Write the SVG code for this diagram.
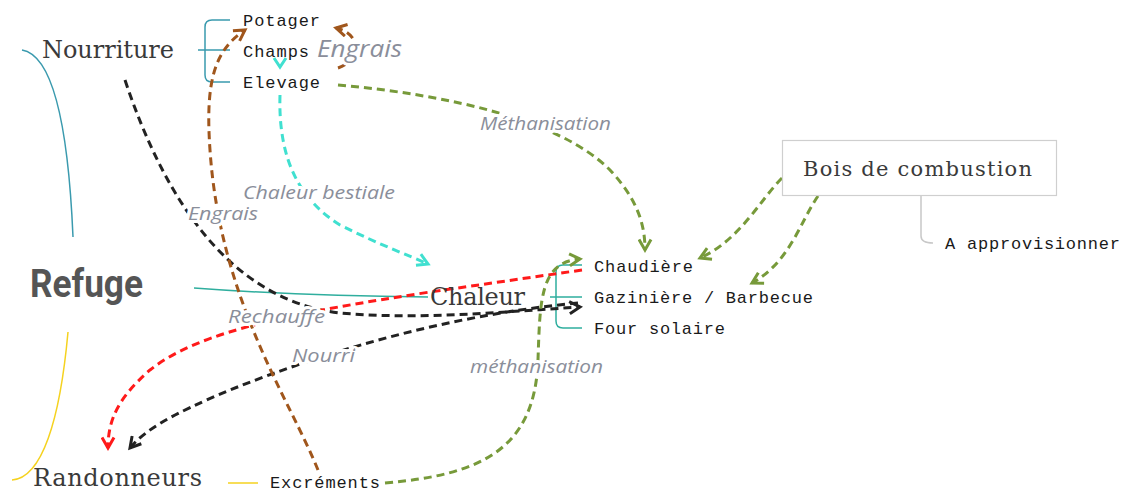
<svg xmlns="http://www.w3.org/2000/svg" width="1128" height="492" viewBox="0 0 1128 492">
<style>
.serif{font-family:"DejaVu Serif","Liberation Serif",serif;fill:#3a3a3a}
.mono{font-family:"Liberation Mono","DejaVu Sans Mono",monospace;font-size:17px;fill:#1a1a1a}
.lbl{font-family:"Open Sans","Noto Sans",sans-serif;font-style:italic;font-size:18px;fill:#8a8e9a;stroke:#fff;stroke-width:6px;stroke-linejoin:round;paint-order:stroke}
.dash{fill:none;stroke-width:3;stroke-dasharray:8 5}
.tie{fill:none;stroke-width:1.5}
</style>
<defs>
<marker id="aG" viewBox="0 0 10 10" refX="8" refY="5" markerWidth="5" markerHeight="5" orient="auto" markerUnits="strokeWidth"><path d="M1,1 L8,5 L1,9" fill="none" stroke="#779a3a" stroke-width="2"/></marker>
<marker id="aK" viewBox="0 0 10 10" refX="8" refY="5" markerWidth="5" markerHeight="5" orient="auto" markerUnits="strokeWidth"><path d="M1,1 L8,5 L1,9" fill="none" stroke="#222" stroke-width="2"/></marker>
<marker id="aR" viewBox="0 0 10 10" refX="8" refY="5" markerWidth="5" markerHeight="5" orient="auto" markerUnits="strokeWidth"><path d="M1,1 L8,5 L1,9" fill="none" stroke="#ff1a1a" stroke-width="2"/></marker>
<marker id="aB" viewBox="0 0 10 10" refX="8" refY="5" markerWidth="5" markerHeight="5" orient="auto" markerUnits="strokeWidth"><path d="M1,1 L8,5 L1,9" fill="none" stroke="#a0561c" stroke-width="2"/></marker>
<marker id="aC" viewBox="0 0 10 10" refX="8" refY="5" markerWidth="5" markerHeight="5" orient="auto" markerUnits="strokeWidth"><path d="M1,1 L8,5 L1,9" fill="none" stroke="#40e0d0" stroke-width="2"/></marker>
</defs>
<rect width="1128" height="492" fill="#fff"/>

<g id="ties">
<path class="tie" stroke="#3a9aae" d="M22,50 C52,55 68,120 73,237"/>
<path class="tie" stroke="#f5d21f" d="M68,332 C60,420 42,478 12,480"/>
<path class="tie" stroke="#2fae9e" d="M194,288 Q300,296 428,297"/>
<path class="tie" stroke="#3a9aae" d="M198,50 H230 M230,20 H212 Q205,20 205,27 V75 Q205,82 212,82 H230"/>
<path class="tie" stroke="#2fae9e" d="M582,265 H563 Q556,265 556,272 V321 Q556,328 563,328 H582 M550,297 H582"/>
<path class="tie" stroke="#f5d21f" d="M228,483 H258"/>
<path class="tie" stroke="#c8c8c8" d="M921,196 V236 Q921,243 933,243"/>
</g>

<g id="connectors">
<path class="dash" stroke="#222" d="M125,80 C165,200 230,300 340,313 C420,320 500,312 580,307" marker-end="url(#aK)"/>
<path class="dash" stroke="#222" d="M578,303 C450,315 330,350 230,390 C170,415 145,430 130,448" marker-end="url(#aK)"/>
<path class="dash" stroke="#ff1a1a" d="M582,270 L430,292 C300,312 200,330 150,370 C118,398 108,420 108,448" marker-end="url(#aR)"/>
<path class="dash" stroke="#a0561c" d="M318,470 C290,400 220,300 210,150 C205,80 215,50 245,30" marker-end="url(#aB)"/>
<path class="dash" stroke="#a0561c" d="M338,68 C362,60 362,34 336,28" marker-end="url(#aB)"/>
<path class="dash" stroke="#40e0d0" d="M280,95 C278,160 300,200 340,225 C380,245 408,255 428,264" marker-end="url(#aC)"/>
<path fill="none" stroke="#40e0d0" stroke-width="3" d="M274,58 L280,67 L286,58"/>
<path class="dash" stroke="#779a3a" d="M338,85 C450,95 560,120 610,170 C638,200 645,225 645,250" marker-end="url(#aG)"/>
<path class="dash" stroke="#779a3a" d="M782,178 C760,200 740,240 700,258" marker-end="url(#aG)"/>
<path class="dash" stroke="#779a3a" d="M818,196 C800,222 790,262 752,283" marker-end="url(#aG)"/>
<path class="dash" stroke="#779a3a" d="M385,483 C480,475 535,450 538,360 C540,300 540,262 580,259" marker-end="url(#aG)"/>
</g>

<g id="labels">
<text class="lbl" x="480" y="130" textLength="131" lengthAdjust="spacingAndGlyphs">Méthanisation</text>
<text class="lbl" x="243" y="199" textLength="152" lengthAdjust="spacingAndGlyphs">Chaleur bestiale</text>
<text class="lbl" x="188" y="220" textLength="70" lengthAdjust="spacingAndGlyphs">Engrais</text>
<text class="lbl" x="317" y="57" style="font-size:24px" textLength="85" lengthAdjust="spacingAndGlyphs">Engrais</text>
<text class="lbl" x="228" y="323" textLength="97" lengthAdjust="spacingAndGlyphs">Rechauffe</text>
<text class="lbl" x="292" y="362" textLength="63" lengthAdjust="spacingAndGlyphs">Nourri</text>
<text class="lbl" x="470" y="373" textLength="133" lengthAdjust="spacingAndGlyphs">méthanisation</text>
</g>

<g id="refuge"><text x="30" y="297" style="font-family:Roboto,'Noto Sans',sans-serif;font-weight:bold;font-size:38px;fill:#555" textLength="113" lengthAdjust="spacingAndGlyphs">Refuge</text></g>
<g id="nourriture"><text class="serif" x="42" y="58" font-size="24" textLength="132">Nourriture</text></g>
<g id="chaleur"><text class="serif" x="430" y="305" font-size="24" textLength="95">Chaleur</text></g>
<g id="randonneurs"><text class="serif" x="33" y="486" font-size="24" textLength="169">Randonneurs</text></g>
<g id="bois">
<rect x="782.5" y="140.5" width="274" height="55" fill="#fff" stroke="#cfcfcf" stroke-width="1.2"/>
<text class="serif" x="803" y="176" font-size="21" textLength="229">Bois de combustion</text>
</g>
<g id="potager"><text class="mono" x="243" y="26" textLength="77">Potager</text></g>
<g id="champs"><text class="mono" x="243" y="57" textLength="66">Champs</text></g>
<g id="elevage"><text class="mono" x="243" y="88" textLength="77">Elevage</text></g>
<g id="chaudiere"><text class="mono" x="594" y="272" textLength="99">Chaudière</text></g>
<g id="gaziniere"><text class="mono" x="594" y="303" textLength="219">Gazinière / Barbecue</text></g>
<g id="four"><text class="mono" x="594" y="334" textLength="131">Four solaire</text></g>
<g id="approvisionner"><text class="mono" x="945" y="249" textLength="175">A approvisionner</text></g>
<g id="excrements"><text class="mono" x="270" y="488" textLength="110">Excréments</text></g>
</svg>
